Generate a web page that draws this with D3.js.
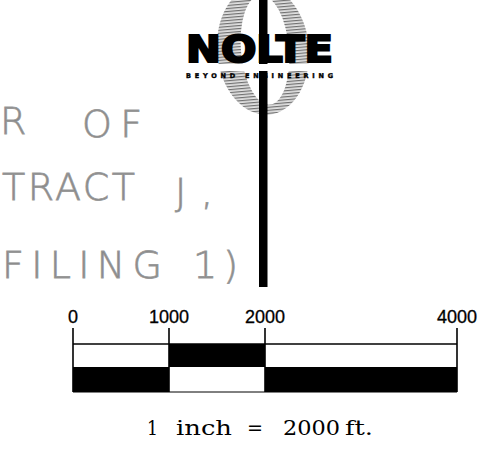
<!DOCTYPE html>
<html><head><meta charset="utf-8">
<script src="https://cdn.jsdelivr.net/npm/d3@7"></script>
<style>html,body{margin:0;padding:0;background:#fff;}svg{display:block;}</style>
</head><body>
<script>
// Scale-bar data
const tickValues = [0, 1000, 2000, 4000];
const tickLabels = ["0", "1000", "2000", "4000"];
const segStarts = [0, 1000, 2000];
const segEnds = [1000, 2000, 4000];
const topRowFill = ["white", "black", "white"];
const bottomRowFill = ["black", "white", "black"];
const scaleCaption = ["1", "inch", "=", "2000", "ft."];
// Handwritten note fragments
const noteWords = ["R", "OF", "TRACT", "J,", "FILING", "1)"];
const logoWord = "NOLTE";
const logoTag = "BEYOND ENGINEERING";

const W = 484, H = 461;
const svg = d3.select("body").append("svg").attr("width", W).attr("height", H);
svg.append("rect").attr("width", W).attr("height", H).attr("fill", "#fff");

const defs = svg.append("defs");
const pat = defs.append("pattern").attr("id", "ht").attr("width", 3).attr("height", 3).attr("patternUnits", "userSpaceOnUse");
pat.append("rect").attr("width", 3).attr("height", 3).attr("fill", "#e2e2e2");
pat.append("rect").attr("width", 3).attr("height", 1.2).attr("fill", "#707070");

// Logo oval ring
const ring = svg.append("g").attr("transform", "translate(263,50) rotate(-5)");
const ell = (cx, rx, ry) => `M${cx - rx},0a${rx},${ry} 0 1,0 ${2*rx},0a${rx},${ry} 0 1,0 ${-2*rx},0Z`;
ring.append("path").attr("d", ell(0, 46, 65) + ell(2, 24, 55))
  .attr("fill", "url(#ht)").attr("fill-rule", "evenodd");

// Pole
svg.append("rect").attr("x", 259).attr("y", 0).attr("width", 8.5).attr("height", 287).attr("fill", "#000");

// Logo band
svg.append("rect").attr("x", 186).attr("y", 64).attr("width", 148).attr("height", 7).attr("fill", "#fff");
svg.append("text").attr("x", 186).attr("y", 62)
  .attr("font-family", "DejaVu Sans").attr("font-weight", "bold").attr("font-size", 37)
  .attr("textLength", 147).attr("lengthAdjust", "spacingAndGlyphs").attr("fill", "#000")
  .attr("stroke", "#000").attr("stroke-width", 2.2)
  .text(logoWord);
svg.append("text").attr("x", 186).attr("y", 78)
  .attr("font-family", "DejaVu Sans").attr("font-weight", "bold").attr("font-size", 6.5)
  .attr("textLength", 147).attr("lengthAdjust", "spacing").attr("fill", "#000")
  .attr("stroke", "#000").attr("stroke-width", 0.4)
  .text(logoTag);

// Handwritten notes
const notePos = [
  {x: 0, y: 134, w: 20}, {x: 82, y: 137, w: 60},
  {x: 2, y: 200, w: 133}, {x: 175, y: 205, w: 38},
  {x: 2, y: 278, w: 160}, {x: 193, y: 278, w: 45}
];
svg.append("g").selectAll("text").data(noteWords).join("text")
  .attr("x", (d, i) => notePos[i].x).attr("y", (d, i) => notePos[i].y)
  .attr("textLength", (d, i) => notePos[i].w).attr("lengthAdjust", "spacing")
  .attr("font-family", "DejaVu Sans").attr("font-weight", 200).attr("font-size", 38)
  .attr("fill", "#888").attr("stroke", "#999").attr("stroke-width", 0.8).text(d => d);

// Scale bar
const x = d3.scaleLinear().domain([0, 4000]).range([73, 457]);
const yTop = 344, yMid = 367, yBot = 392, yTick = 328;
const bar = svg.append("g");
bar.selectAll("rect.top").data(segStarts).join("rect").attr("class", "top")
  .attr("x", (d) => x(d)).attr("y", yTop)
  .attr("width", (d, i) => x(segEnds[i]) - x(d)).attr("height", yMid - yTop)
  .attr("fill", (d, i) => topRowFill[i]);
bar.selectAll("rect.bot").data(segStarts).join("rect").attr("class", "bot")
  .attr("x", (d) => x(d)).attr("y", yMid)
  .attr("width", (d, i) => x(segEnds[i]) - x(d)).attr("height", yBot - yMid)
  .attr("fill", (d, i) => bottomRowFill[i]);
bar.append("line").attr("x1", x(0)).attr("x2", x(4000)).attr("y1", yTop).attr("y2", yTop)
  .attr("stroke", "#000").attr("stroke-width", 1.6);
bar.append("line").attr("x1", x(0)).attr("x2", x(4000)).attr("y1", yBot).attr("y2", yBot)
  .attr("stroke", "#000").attr("stroke-width", 1);
bar.selectAll("line.tick").data(tickValues).join("line").attr("class", "tick")
  .attr("x1", d => x(d)).attr("x2", d => x(d))
  .attr("y1", yTick).attr("y2", yBot)
  .attr("stroke", "#000").attr("stroke-width", 1.6);
bar.selectAll("text.lab").data(tickValues).join("text").attr("class", "lab")
  .attr("x", d => x(d)).attr("y", 323).attr("text-anchor", "middle")
  .attr("font-family", "Liberation Sans, Arial, sans-serif").attr("font-size", 18)
  .attr("fill", "#000").attr("stroke", "#000").attr("stroke-width", 0.3)
  .text((d, i) => tickLabels[i]);

// Caption
const capPos = [{x: 147, w: 11}, {x: 176, w: 56}, {x: 247, w: 16}, {x: 283, w: 57}, {x: 345, w: 28}];
svg.append("g").selectAll("text").data(scaleCaption).join("text")
  .attr("x", (d, i) => capPos[i].x).attr("y", 435)
  .attr("textLength", (d, i) => capPos[i].w).attr("lengthAdjust", "spacingAndGlyphs")
  .attr("font-family", "DejaVu Serif, serif").attr("font-size", 21)
  .attr("fill", "#000").text(d => d);
</script>
</body></html>
